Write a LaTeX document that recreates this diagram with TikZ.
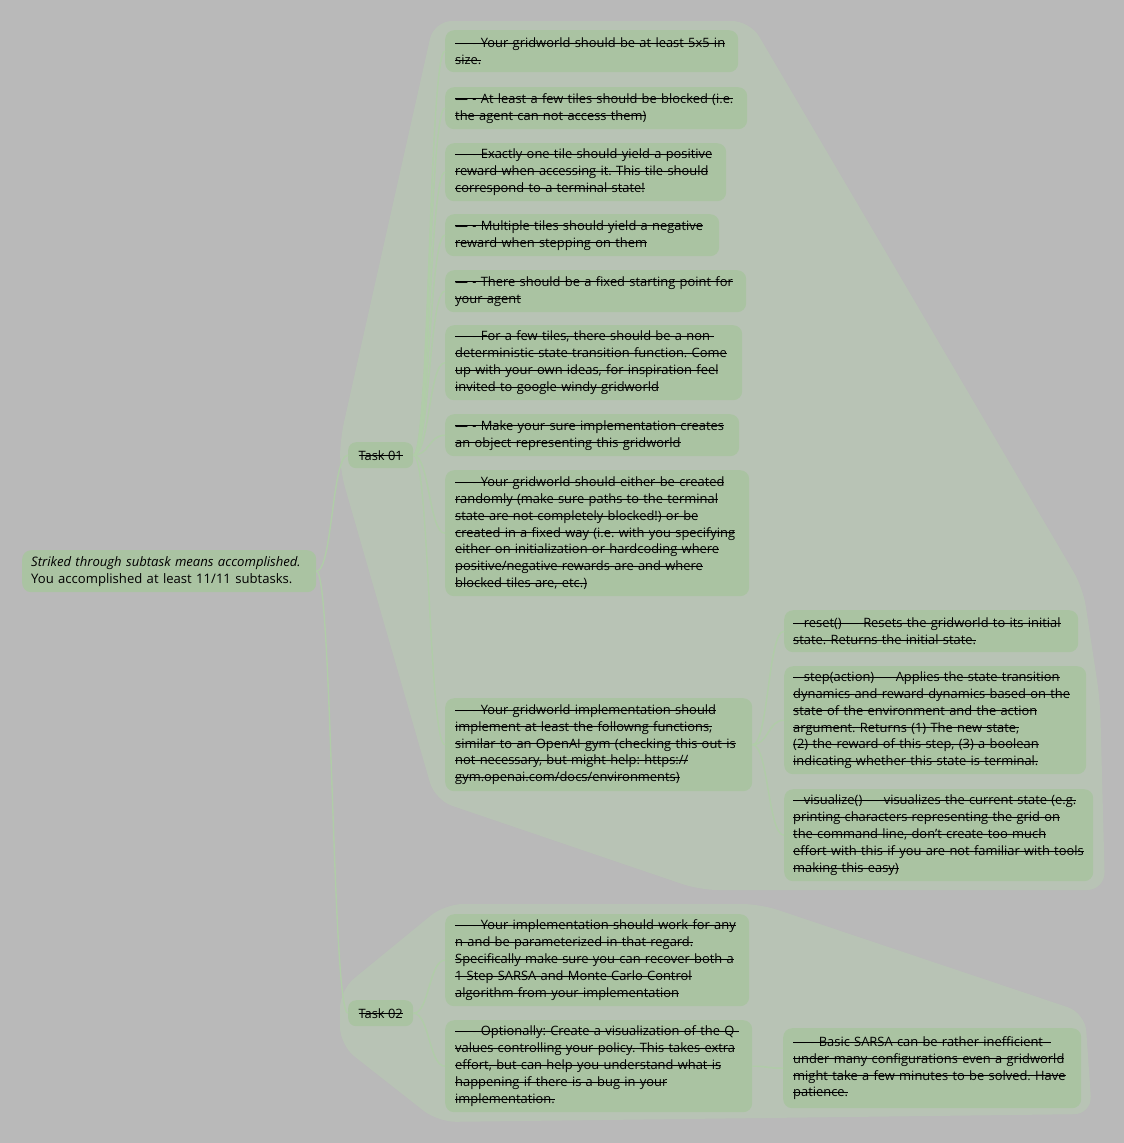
\documentclass[tikz,border=0pt]{standalone}
\usepackage{fontspec}
\setmainfont{Open Sans}
\frenchspacing
\newsavebox\stbox
\newcommand\stl[1]{\sbox\stbox{#1}\mbox{\rlap{\rule[0.3em]{\wd\stbox}{0.8pt}}\usebox\stbox}}
\definecolor{bgc}{RGB}{185,185,185}
\definecolor{grpc}{RGB}{184,195,181}
\definecolor{nodec}{RGB}{170,195,162}
\definecolor{connc}{RGB}{176,204,168}
\tikzset{
  box/.style={fill=nodec, rounded corners=9pt, inner xsep=10pt, inner ysep=0pt,
    align=left, anchor=north west, text=black,
    font=\fontsize{12.9}{16.9}\selectfont},
  cbox/.style={box, inner xsep=9pt},
  taskbox/.style={fill=nodec, rounded corners=8pt, inner sep=0pt, anchor=north west,
    minimum width=65pt, minimum height=26pt, font=\fontsize{12.9}{16.9}\selectfont},
  conn/.style={draw=connc, line width=1.4pt},
  grp/.style={fill=grpc, rounded corners=18pt}
}
\begin{document}
\begin{tikzpicture}[x=1pt,y=-1pt]
\fill[bgc] (0,0) rectangle (1124,1143);
\useasboundingbox (0,0) rectangle (1124,1143);
% group blobs
\fill[grp] (434,21) -- (750,21) -- (1083,588) -- (1100,700) -- (1105,890) -- (700,890) -- (435,800) -- (340,470) -- (340,440) -- cycle;
\fill[grp] (445,904) -- (760,904) -- (1085,1013) -- (1092,1114) -- (438,1122) -- (340,1045) -- (340,990) -- cycle;

% nodes
\node[box, minimum width=294pt, minimum height=42pt, text width=276pt, inner xsep=9pt, font=\fontsize{13.1}{16.9}\selectfont] (root) at (22,550)
  {\textit{Striked through subtask means accomplished.}\\You accomplished at least 11/11 subtasks.};
\node[taskbox] (task1) at (348,442) {\stl{Task 01}};
\node[taskbox] (task2) at (348,1000) {\stl{Task 02}};

\node[box, minimum width=293pt, minimum height=42pt, text width=273pt] (n1) at (445,30)
  {\stl{— - Your gridworld should be at least 5x5 in}\\\stl{size.}};
\node[box, minimum width=302pt, minimum height=42pt, text width=282pt] (n2) at (445,87)
  {\stl{— - At least a few tiles should be blocked (i.e.}\\\stl{the agent can not access them)}};
\node[box, minimum width=281pt, minimum height=58pt, text width=261pt] (n3) at (445,143)
  {\stl{— - Exactly one tile should yield a positive}\\\stl{reward when accessing it. This tile should}\\\stl{correspond to a terminal state!}};
\node[box, minimum width=274pt, minimum height=42pt, text width=254pt] (n4) at (445,214)
  {\stl{— - Multiple tiles should yield a negative}\\\stl{reward when stepping on them}};
\node[box, minimum width=301pt, minimum height=42pt, text width=281pt] (n5) at (445,270)
  {\stl{— - There should be a fixed starting point for}\\\stl{your agent}};
\node[box, minimum width=297pt, minimum height=75pt, text width=277pt] (n6) at (445,325)
  {\stl{— - For a few tiles, there should be a non-}\\\stl{deterministic state transition function. Come}\\\stl{up with your own ideas, for inspiration feel}\\\stl{invited to google windy gridworld}};
\node[box, minimum width=294pt, minimum height=42pt, text width=274pt] (n7) at (445,414)
  {\stl{— - Make your sure implementation creates}\\\stl{an object representing this gridworld}};
\node[box, minimum width=304pt, minimum height=126pt, text width=284pt] (n8) at (445,470)
  {\stl{— - Your gridworld should either be created}\\\stl{randomly (make sure paths to the terminal}\\\stl{state are not completely blocked!) or be}\\\stl{created in a fixed way (i.e. with you specifying}\\\stl{either on initialization or hardcoding where}\\\stl{positive/negative rewards are and where}\\\stl{blocked tiles are, etc.)}};
\node[box, minimum width=307pt, minimum height=93pt, text width=287pt] (n9) at (445,698)
  {\stl{— - Your gridworld implementation should}\\\stl{implement at least the followng functions,}\\\stl{similar to an OpenAI gym (checking this out is}\\\stl{not necessary, but might help: https://}\\\stl{gym.openai.com/docs/environments)}};
\node[cbox, minimum width=294pt, minimum height=42pt, text width=276pt] (na) at (784,610)
  {\stl{– reset() — Resets the gridworld to its initial}\\\stl{state. Returns the initial state.}};
\node[cbox, minimum width=302pt, minimum height=108pt, text width=284pt] (nb) at (784,666)
  {\stl{– step(action) — Applies the state transition}\\\stl{dynamics and reward dynamics based on the}\\\stl{state of the environment and the action}\\\stl{argument. Returns (1) The new state,}\\\stl{(2) the reward of this step, (3) a boolean}\\\stl{indicating whether this state is terminal.}};
\node[cbox, minimum width=309pt, minimum height=92pt, text width=291pt] (nc) at (784,789)
  {\stl{– visualize() — visualizes the current state (e.g.}\\\stl{printing characters representing the grid on}\\\stl{the command line, don’t create too much}\\\stl{effort with this if you are not familiar with tools}\\\stl{making this easy)}};
\node[box, minimum width=304pt, minimum height=92pt, text width=284pt] (nd) at (445,914)
  {\stl{— - Your implementation should work for any}\\\stl{n and be parameterized in that regard.}\\\stl{Specifically make sure you can recover both a}\\\stl{1-Step SARSA and Monte-Carlo Control}\\\stl{algorithm from your implementation}};
\node[box, minimum width=307pt, minimum height=92pt, text width=287pt] (ne) at (445,1020)
  {\stl{— - Optionally: Create a visualization of the Q-}\\\stl{values controlling your policy. This takes extra}\\\stl{effort, but can help you understand what is}\\\stl{happening if there is a bug in your}\\\stl{implementation.}};
\node[box, minimum width=298pt, minimum height=80pt, text width=278pt] (nf) at (783,1028)
  {\stl{— - Basic SARSA can be rather inefficient -}\\\stl{under many configurations even a gridworld}\\\stl{might take a few minutes to be solved. Have}\\\stl{patience.}};

% connectors
\foreach \t in {task1,task2}
  \draw[conn] (root.east) .. controls +(16,0) and +(-16,0) .. (\t.west);
\foreach \c in {n1,n2,n3,n4,n5,n6,n7,n8,n9}
  \draw[conn] (task1.east) .. controls +(16,0) and +(-16,0) .. (\c.west);
\foreach \c in {na,nb,nc}
  \draw[conn] (n9.east) .. controls +(16,0) and +(-16,0) .. (\c.west);
\foreach \c in {nd,ne}
  \draw[conn] (task2.east) .. controls +(16,0) and +(-16,0) .. (\c.west);
\draw[conn] (ne.east) .. controls +(15,0) and +(-15,0) .. (nf.west);
\end{tikzpicture}
\end{document}
